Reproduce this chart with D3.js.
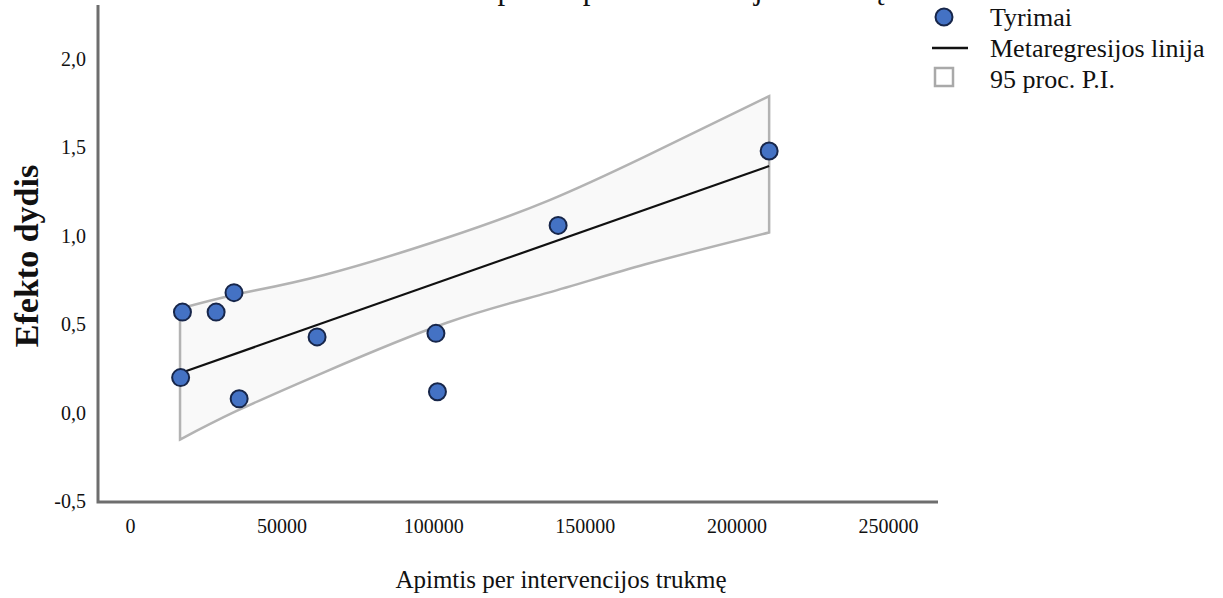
<!DOCTYPE html>
<html>
<head>
<meta charset="utf-8">
<script src="https://cdn.jsdelivr.net/npm/d3@7"></script>
<style>
  body { margin: 0; background: #fff; }
  svg text { font-family: "Liberation Serif", "Times New Roman", serif; fill: #111; }
</style>
</head>
<body>
<div id="chart"></div>
<script>
// Studies (x = apimtis per intervencijos trukme, y = efekto dydis)
var studyX = [17300, 16700, 28400, 34300, 36000, 61700, 100900, 101400, 141200, 210800];
var studyY = [0.57, 0.20, 0.57, 0.68, 0.08, 0.43, 0.45, 0.12, 1.06, 1.48];

// Meta-regression line end points
var lineX = [16700, 210800];
var lineY = [0.226, 1.395];

// 95 proc. prediction interval
var bandX = [16500, 35000, 64000, 104500, 138000, 170000, 210800];
var bandUpper = [0.59, 0.67, 0.78, 0.99, 1.20, 1.45, 1.79];
var bandLower = [-0.15, 0.01, 0.23, 0.51, 0.68, 0.84, 1.02];

var xTicks = [0, 50000, 100000, 150000, 200000, 250000];
var yTicks = [-0.5, 0, 0.5, 1.0, 1.5, 2.0];

var legendLabels = ["Tyrimai", "Metaregresijos linija", "95 proc. P.I."];

var width = 1223, height = 598;

var svg = d3.select("#chart").append("svg")
  .attr("width", width)
  .attr("height", height);

var x = d3.scaleLinear().domain([0, 250000]).range([130, 888]);
var y = d3.scaleLinear().domain([-0.5, 2.0]).range([501.5, 59]);

// cut-off title at the very top
svg.append("text")
  .attr("x", 475)
  .attr("y", -1)
  .style("font-size", "31px")
  .text("Apimtis per intervencijos trukmę");

// prediction band
var band = d3.area()
  .x(function(d, i) { return x(bandX[i]); })
  .y0(function(d, i) { return y(bandLower[i]); })
  .y1(function(d, i) { return y(bandUpper[i]); })
  .curve(d3.curveNatural);

svg.append("path")
  .attr("d", band(bandX))
  .attr("fill", "#f9f9f9")
  .attr("stroke", "#b3b3b3")
  .attr("stroke-width", 2.5);

// regression line
var line = d3.line()
  .x(function(d, i) { return x(lineX[i]); })
  .y(function(d, i) { return y(lineY[i]); });

svg.append("path")
  .attr("d", line(lineX))
  .attr("fill", "none")
  .attr("stroke", "#111")
  .attr("stroke-width", 2.2);

// points
svg.selectAll(".dot")
  .data(studyX)
  .enter().append("circle")
  .attr("class", "dot")
  .attr("cx", function(d) { return x(d); })
  .attr("cy", function(d, i) { return y(studyY[i]); })
  .attr("r", 8.5)
  .attr("fill", "#4472c4")
  .attr("stroke", "#17264a")
  .attr("stroke-width", 2);

// axes lines
svg.append("path")
  .attr("d", "M98,5V502H938")
  .attr("fill", "none")
  .attr("stroke", "#6e6e6e")
  .attr("stroke-width", 3);

var fmt = function(d) { return d3.format(".1f")(d).replace(".", ",").replace("\u2212", "-"); };

var gx = svg.append("g")
  .attr("transform", "translate(0,502)")
  .call(d3.axisBottom(x).tickValues(xTicks).tickSize(0).tickPadding(17).tickFormat(d3.format("d")));
gx.select(".domain").remove();
gx.selectAll("text").style("font-size", "20px").style("font-family", "Liberation Serif, serif");

var gy = svg.append("g")
  .attr("transform", "translate(86,0)")
  .call(d3.axisLeft(y).tickValues(yTicks).tickSize(0).tickPadding(0).tickFormat(fmt));
gy.select(".domain").remove();
gy.selectAll("text").style("font-size", "20px").style("font-family", "Liberation Serif, serif");

// axis titles
svg.append("text")
  .attr("x", 561)
  .attr("y", 588)
  .attr("text-anchor", "middle")
  .style("font-size", "25px")
  .text("Apimtis per intervencijos trukmę");

svg.append("text")
  .attr("transform", "translate(38,256) rotate(-90)")
  .attr("text-anchor", "middle")
  .style("font-size", "34px")
  .style("font-weight", "bold")
  .text("Efekto dydis");

// legend
var lg = svg.append("g");
lg.append("circle")
  .attr("cx", 944).attr("cy", 17).attr("r", 8.5)
  .attr("fill", "#4472c4").attr("stroke", "#17264a").attr("stroke-width", 2);
lg.append("line")
  .attr("x1", 932).attr("x2", 968).attr("y1", 48).attr("y2", 48)
  .attr("stroke", "#111").attr("stroke-width", 2.5);
lg.append("rect")
  .attr("x", 935).attr("y", 68).attr("width", 18).attr("height", 18)
  .attr("fill", "#fff").attr("stroke", "#a9a9a9").attr("stroke-width", 2.5);
lg.selectAll(".lt")
  .data(legendLabels)
  .enter().append("text")
  .attr("class", "lt")
  .attr("x", 990)
  .attr("y", function(d, i) { return 26 + i * 31; })
  .style("font-size", "26px")
  .text(function(d) { return d; });
</script>
</body>
</html>
